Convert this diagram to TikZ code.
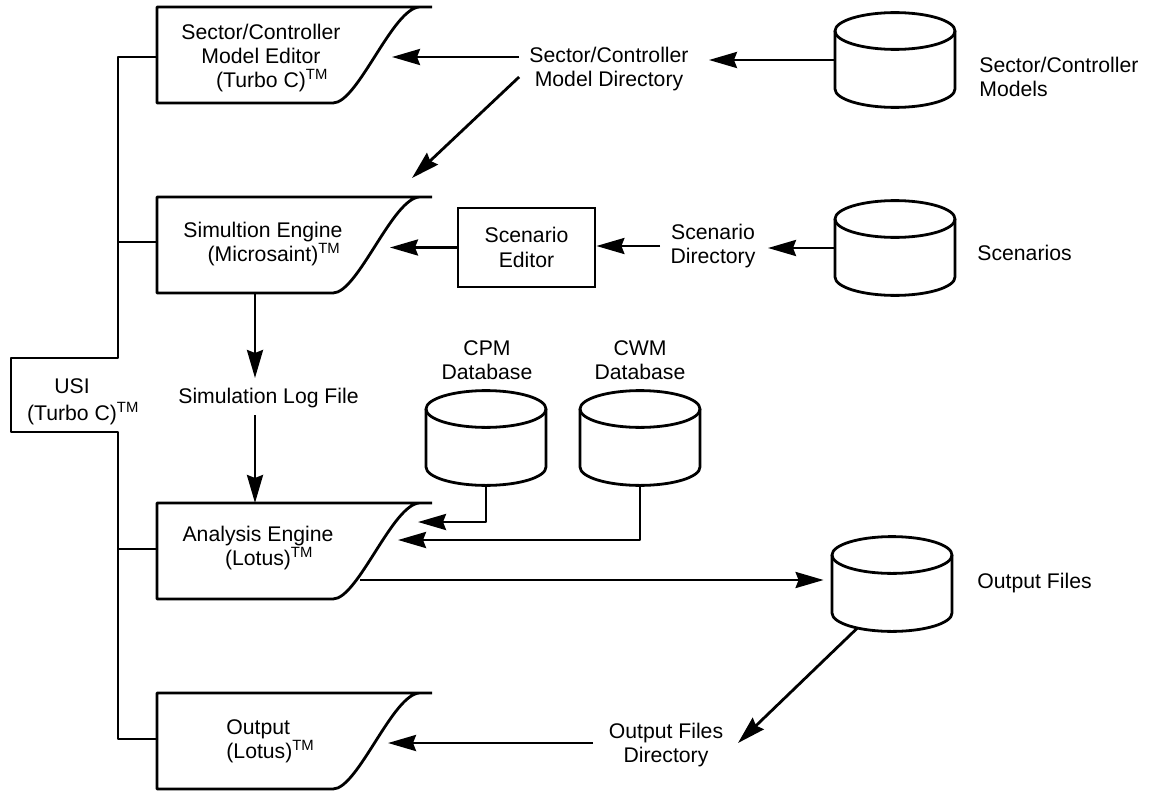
\documentclass[tikz,border=0pt]{standalone}
\usepackage{fontspec}
\setmainfont{Liberation Sans}
\usetikzlibrary{arrows.meta,calc}
\newcommand\tmark{\rlap{\textsuperscript{TM}}}
\newcommand\procbox[1]{\draw[ln] (432,#1) -- (157,#1) -- (157,#1+96) -- (333,#1+96) .. controls (358,#1+96) and (393,#1) .. (420,#1);}
\newcommand\dbcyl[4]{%
  \draw[ln] (#2,#3) ellipse [x radius=30pt, y radius=9.2pt];
  \draw[ln] (#2-60,#3) -- (#2-60,#4) arc[start angle=180,end angle=360,x radius=30pt,y radius=9.2pt] -- (#2+60,#3);
  \node[inner sep=0pt, minimum width=60pt, minimum height=47pt] (#1) at (#2,{(#3+#4)/2}) {};
}
\begin{document}
\begin{tikzpicture}[x=0.5pt,y=-0.5pt,
  ln/.style={line width=1.4pt, line join=round},
  arr/.style={ln, -{Stealth[length=14pt,width=8pt,inset=1.5pt]}},
  lbl/.style={font=\fontsize{10.6}{12.2}\selectfont, align=center, inner sep=0pt, inner xsep=5pt}]
\useasboundingbox (0,0) rectangle (1150,792);
\fill[white] (0,0) rectangle (1150,792);

% process boxes
\procbox{7}
\procbox{197}
\procbox{503}
\procbox{693}
\node[lbl] (smed) at (261,58) {Sector/Controller\\Model Editor\\(Turbo C)\tmark};
\node[lbl] (sim) at (263,244) {Simultion Engine\\(Microsaint)\tmark};
\node[lbl] (ana) at (258,548) {Analysis Engine\\(Lotus)\tmark};
\node[lbl, align=left, anchor=west, inner xsep=0pt] (outp) at (226,741) {Output\\(Lotus)\textsuperscript{TM}};

% USI bracket
\node[lbl, font=\fontsize{10.6}{13.5}\selectfont] (usi) at (72,402) {USI\\(Turbo C)\tmark};
\coordinate (j1) at (157,57);
\coordinate (j2) at (157,242);
\coordinate (j3) at (157,549);
\coordinate (j4) at (157,739);
\draw[ln] (j1) -- (118,57) -- (118,358) -- (11,358) -- (11,432) -- (118,432) -- (118,739) -- (j4);
\draw[ln] (118,242) -- (j2);
\draw[ln] (118,549) -- (j3);

% cylinders
\dbcyl{scm}{895}{31}{89}
\dbcyl{scen}{895}{219}{277}
\dbcyl{cpm}{486}{409}{467}
\dbcyl{cwm}{640}{409}{467}
\dbcyl{ofc}{892}{555}{613}

\node[lbl, align=left, anchor=west, inner xsep=0pt] (scmt) at (979,77) {Sector/Controller\\Models};
\node[lbl, anchor=west, inner xsep=0pt] (scent) at (977,253) {Scenarios};
\node[lbl, anchor=west, inner xsep=0pt] (ofct) at (977,583) {Output Files};
\node[lbl] (cpmt) at (487,360) {CPM\\Database};
\node[lbl] (cwmt) at (640,360) {CWM\\Database};

% labels
\node[lbl] (scmd) at (609,69) {Sector/Controller\\Model Directory};
\node[lbl] (sdir) at (713,246) {Scenario\\Directory};
\node[lbl, draw, line width=1.4pt, minimum width=68.5pt, minimum height=39.5pt] (ed) at (526.5,247.5) {Scenario\\Editor};
\node[lbl, anchor=west, inner xsep=0pt] (slog) at (178,398) {Simulation Log File};
\node[lbl] (ofd) at (666,745) {Output Files\\Directory};

% arrow end points
\coordinate (h1) at (392,57);
\coordinate (d1) at (412,178);
\coordinate (h2) at (390,247);
\coordinate (t4) at (768,248);
\coordinate (b2s) at (255,293);
\coordinate (t7) at (255,378);
\coordinate (s8) at (255,415);
\coordinate (b3n) at (255,503);
\coordinate (h3) at (418,522);
\coordinate (h4) at (398,540);
\coordinate (b3o) at (360,580);
\coordinate (t12) at (738,743);
\coordinate (s13) at (593,743);
\coordinate (h5) at (388,743);

% connectors
\draw[arr, shorten >=5pt] (scm.west) -- (scm.west -| scmd.east);
\draw[arr] (scmd.west |- h1) -- (h1);
\draw[arr] ([yshift=-4pt]scmd.west) -- (d1);
\draw[arr] (scen.west) -- (t4);
\draw[arr] (sdir.west) -- (sdir.west -| ed.east);
\draw[arr] (ed.west) -- (ed.west -| h2);
\draw[arr] (b2s) -- (t7);
\draw[arr] (s8) -- (b3n);
\draw[arr] (cpm.south) |- (h3);
\draw[arr] (cwm.south) |- (h4);
\draw[arr, shorten >=4pt] (b3o) -- (ofc.west |- b3o);
\draw[arr] ([xshift=-17.5pt,yshift=1.5pt]ofc.south) -- (t12);
\draw[arr] (s13) -- (h5);
\end{tikzpicture}
\end{document}
